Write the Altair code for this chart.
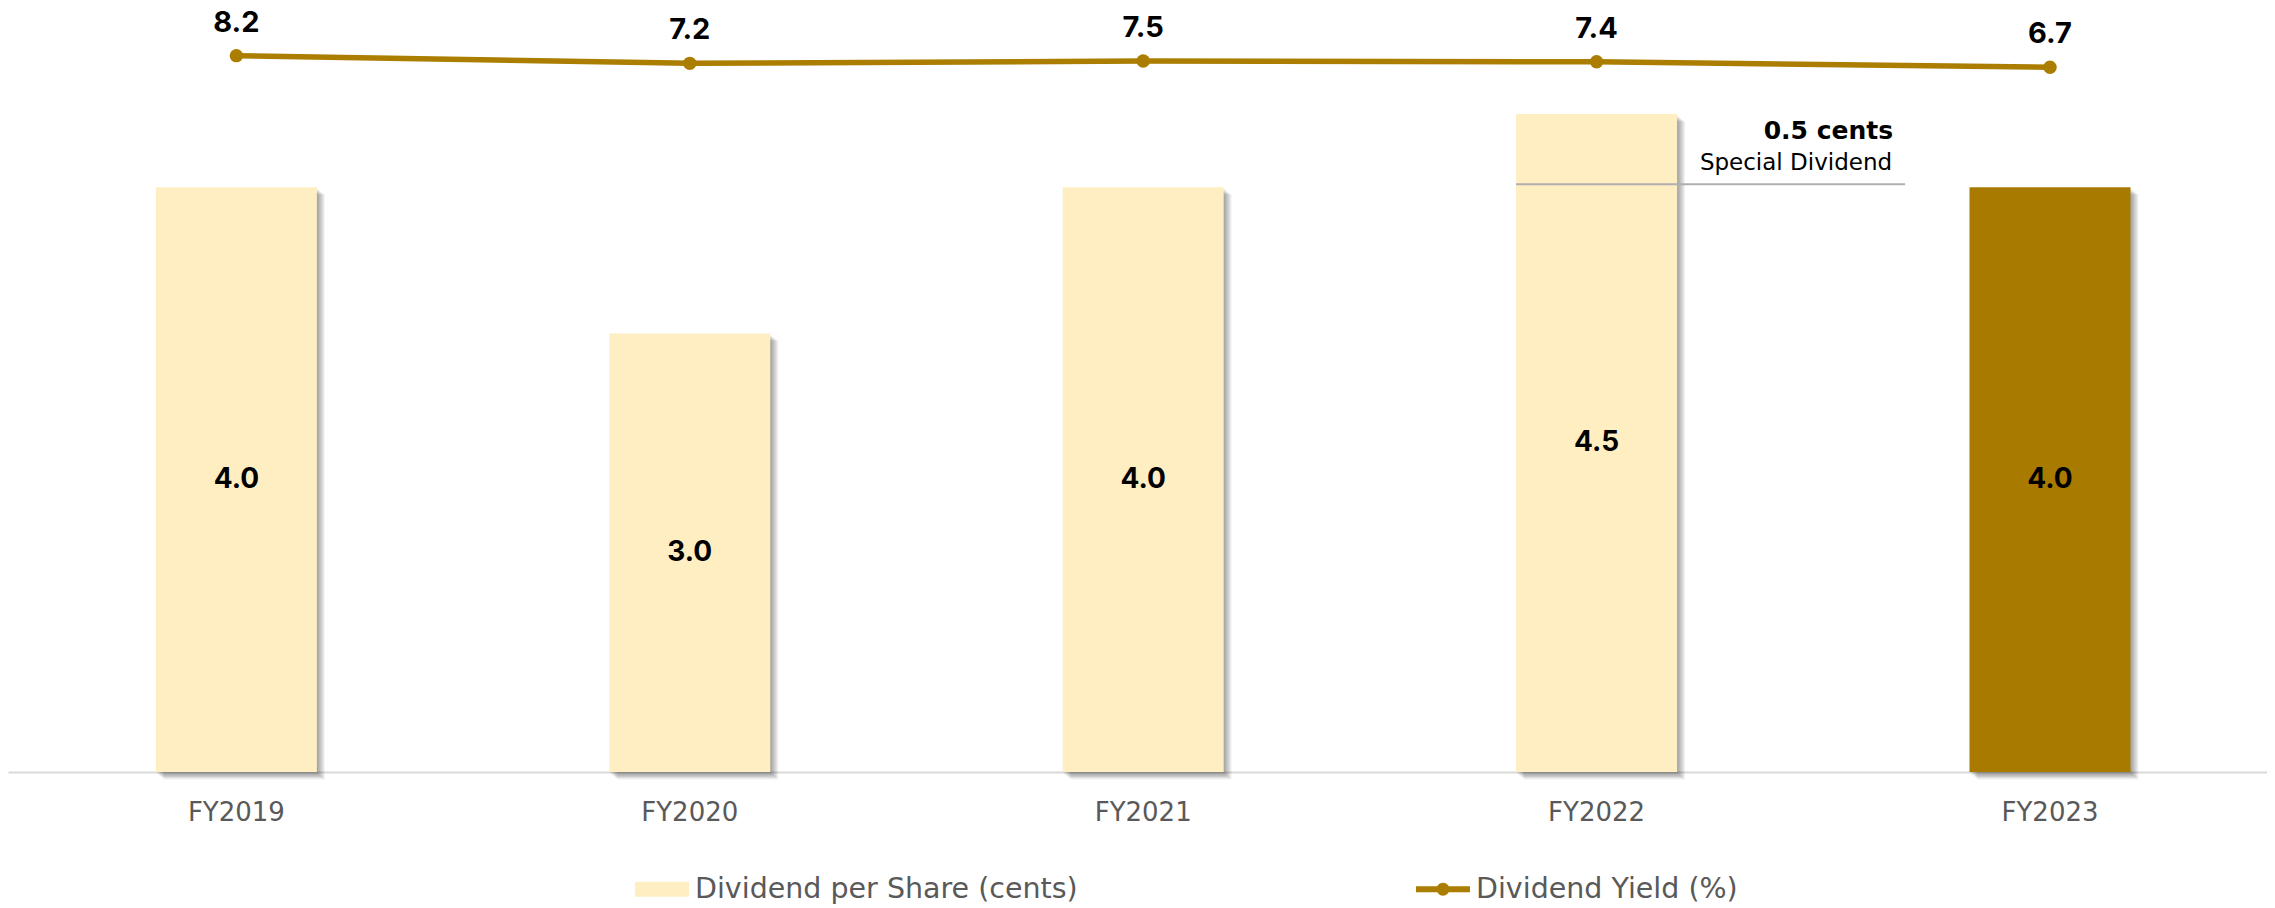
import altair as alt
import pandas as pd

years = ["FY2019", "FY2020", "FY2021", "FY2022", "FY2023"]
dps = [4.0, 3.0, 4.0, 4.5, 4.0]
yield_pct = [8.2, 7.2, 7.5, 7.4, 6.7]
series_names = ["Dividend per Share (cents)", "Dividend Yield (%)"]
annot_title = "0.5 cents"
annot_sub = "Special Dividend"

LIGHT = "#FFEEC2"
DARK = "#A97A00"
GOLD = "#AB7D00"
NUM_FONT = "Inter"
TXT_FONT = "DejaVu Sans"

df = pd.DataFrame({"year": years, "dps": dps, "yld": yield_pct})
df["label_dps"] = [f"{v:.1f}" for v in dps]
df["label_yld"] = [f"{v:.1f}" for v in yield_pct]

W, H = 2259, 764
bar_dom = [0, H / 146.2]
line_dom = [-84.83, 14.39]

xscale = alt.Scale(paddingInner=0.6449, paddingOuter=0.3136, align=0.52)
xaxis = alt.Axis(title=None, labelAngle=0, ticks=False, grid=False,
                 domainColor="#D9D9D9", domainWidth=2,
                 labelFont=TXT_FONT, labelFontSize=26, labelColor="#595959",
                 labelPadding=27)


def xenc(bp=None):
    if bp is None:
        return alt.X("year:N", sort=years, scale=xscale, axis=xaxis)
    return alt.X("year:N", sort=years, scale=xscale, axis=xaxis, bandPosition=bp)


base = alt.Chart(df)
ybar = alt.Y("dps:Q", scale=alt.Scale(domain=bar_dom, nice=False, zero=True), axis=None)

layers = []
for k in range(1, 9):
    layers.append(base.mark_bar(color="#000000", opacity=0.05, xOffset=k,
                                yOffset=k * 0.8 + 1, y2Offset=k * 0.45)
                  .encode(x=xenc(), y=ybar))

bars = base.mark_bar().encode(
    x=xenc(), y=ybar,
    color=alt.condition(alt.datum.year == "FY2023", alt.value(DARK), alt.value(LIGHT)),
)
layers.append(bars)

bar_text = base.transform_calculate(mid="datum.dps / 2").mark_text(
    font=NUM_FONT, fontSize=28, fontWeight="bold", color="#000000", baseline="middle"
).encode(x=xenc(), y=alt.Y("mid:Q", scale=alt.Scale(domain=bar_dom, nice=False, zero=True), axis=None),
         text="label_dps:N")
layers.append(bar_text)

yline = alt.Y("yld:Q", scale=alt.Scale(domain=line_dom, nice=False, zero=False), axis=None)
line = base.mark_line(color=GOLD, strokeWidth=5.5).encode(x=xenc(), y=yline)
pts = base.mark_point(filled=True, color=GOLD, size=180, opacity=1).encode(x=xenc(), y=yline)
line_text = base.mark_text(font=NUM_FONT, fontSize=29, fontWeight="bold", color="#000000",
                           baseline="alphabetic", dy=-24).encode(x=xenc(), y=yline, text="label_yld:N")
layers += [line, pts, line_text]

ann = alt.Chart(pd.DataFrame({"year": ["FY2022"], "v": [4.0],
                              "t1": [annot_title], "t2": [annot_sub]}))
yann = alt.Y("v:Q", scale=alt.Scale(domain=bar_dom, nice=False, zero=True), axis=None)
ann_rule = ann.mark_rule(color="#AFAFAF", strokeWidth=2, x2Offset=228, yOffset=-3).encode(
    x=xenc(0), x2=alt.X2("year:N", bandPosition=1), y=yann)
ann_t1 = ann.mark_text(font=TXT_FONT, fontSize=25, fontWeight="bold", color="#000000",
                       align="right", baseline="alphabetic", dx=216, dy=-48).encode(
    x=xenc(1), y=yann, text="t1:N")
ann_t2 = ann.mark_text(font=TXT_FONT, fontSize=23, color="#000000",
                       align="right", baseline="alphabetic", dx=215, dy=-17).encode(
    x=xenc(1), y=yann, text="t2:N")
layers += [ann_rule, ann_t1, ann_t2]

rect_path = "M-1,-0.28H1V0.28H-1Z"
line_path = ("M-1,-0.11H1V0.11H-1Z "
             "M-0.24,0A0.24,0.24 0 1,1 0.24,0A0.24,0.24 0 1,1 -0.24,0Z")
leg = alt.Legend(title=None, orient="none", legendX=627, legendY=854, direction="horizontal",
                 columnPadding=338, labelFont=TXT_FONT, labelFontSize=28.5, labelColor="#595959",
                 labelLimit=1000, symbolSize=2916, symbolStrokeWidth=0, labelOffset=6,
                 symbolOpacity=1)
legend_layer = alt.Chart(pd.DataFrame({"series": series_names})).transform_filter("false").mark_point(
    filled=True, opacity=1
).encode(
    color=alt.Color("series:N", scale=alt.Scale(domain=series_names, range=[LIGHT, GOLD]), legend=leg),
    shape=alt.Shape("series:N", scale=alt.Scale(domain=series_names, range=[rect_path, line_path]), legend=leg),
)
layers.append(legend_layer)

chart = alt.layer(*layers).resolve_scale(y="independent").properties(
    width=W, height=H,
    padding={"left": 0, "top": 0, "right": 0, "bottom": 134},
    autosize=alt.AutoSizeParams(type="none"),
).configure_view(stroke=None)

chart.save("out.html", embed_options={"renderer": "svg", "actions": False})
